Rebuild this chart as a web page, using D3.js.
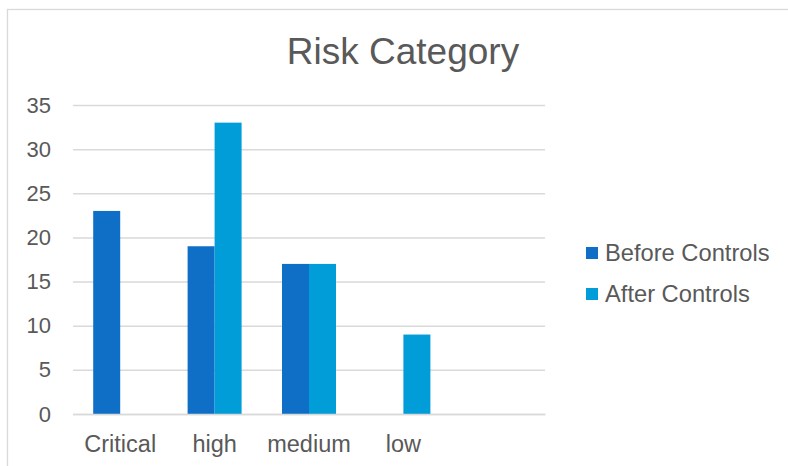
<!DOCTYPE html>
<html>
<head>
<meta charset="utf-8">
<script src="https://cdn.jsdelivr.net/npm/d3@7"></script>
<style>
  html, body { margin: 0; padding: 0; background: #fff; }
  svg { display: block; font-family: "Liberation Sans", Arial, sans-serif; }
</style>
</head>
<body>
<svg id="chart" width="788" height="466"></svg>
<script>
// Risk counts per category, before and after controls (last slot is an empty category)
const categories = ["Critical", "high", "medium", "low", ""];
const seriesNames = ["Before Controls", "After Controls"];
const beforeControls = [23, 19, 17, null, null];
const afterControls = [null, 33, 17, 9, null];
const yTicks = [0, 5, 10, 15, 20, 25, 30, 35];
const colors = ["#0F6FC6", "#009DD9"];

const svg = d3.select("#chart");
const textColor = "#595959";
const gridColor = "#D9D9D9";

// Chart area frame
svg.append("rect")
  .attr("x", 7.5).attr("y", 9.5)
  .attr("width", 800).attr("height", 480)
  .attr("fill", "#fff").attr("stroke", gridColor).attr("stroke-width", 1.3);

const plot = { left: 73, right: 545, top: 105, bottom: 414 };

const x = d3.scaleBand()
  .domain(categories.map((d, i) => i))
  .range([plot.left, plot.right])
  .paddingInner(0.428)
  .paddingOuter(0.214);

const xSub = d3.scaleBand()
  .domain(d3.range(seriesNames.length))
  .range([0, x.bandwidth()]);

const y = d3.scaleLinear().domain([0, 35]).range([plot.bottom, plot.top]);

// Title
svg.append("text")
  .attr("x", 403).attr("y", 64)
  .attr("text-anchor", "middle")
  .attr("fill", textColor)
  .attr("font-size", 37)
  .text("Risk Category");

// Gridlines and y tick labels
const yAxis = d3.axisLeft(y).tickValues(yTicks).tickSize(-(plot.right - plot.left)).tickPadding(22);
const gy = svg.append("g").attr("transform", `translate(${plot.left},0)`).call(yAxis);
gy.select(".domain").remove();
gy.selectAll(".tick line").attr("stroke", gridColor).attr("stroke-width", 1.5);
gy.selectAll(".tick text").attr("fill", textColor).attr("font-size", 22)
  .attr("font-family", "Liberation Sans, Arial, sans-serif");

// Bars
const series = [beforeControls, afterControls];
series.forEach((vals, s) => {
  svg.append("g").selectAll("rect")
    .data(vals.map((v, i) => ({ v, i })).filter(d => d.v != null))
    .join("rect")
    .attr("x", d => x(d.i) + xSub(s))
    .attr("width", xSub.bandwidth())
    .attr("y", d => y(d.v))
    .attr("height", d => y(0) - y(d.v))
    .attr("fill", colors[s]);
});

// Category axis
const xAxis = d3.axisBottom(x).tickFormat(i => categories[i]).tickSize(0).tickPadding(21);
const gx = svg.append("g").attr("transform", `translate(0,${plot.bottom})`).call(xAxis);
gx.select(".domain").attr("stroke", gridColor).attr("stroke-width", 1.5);
gx.selectAll(".tick text").attr("fill", textColor).attr("font-size", 23.5)
  .attr("font-family", "Liberation Sans, Arial, sans-serif");

// Legend
const legend = svg.append("g");
seriesNames.forEach((name, s) => {
  const ly = 253 + s * 41;
  legend.append("rect")
    .attr("x", 586).attr("y", ly - 6)
    .attr("width", 12).attr("height", 12)
    .attr("fill", colors[s]);
  legend.append("text")
    .attr("x", 605).attr("y", ly)
    .attr("dy", "0.35em")
    .attr("fill", textColor)
    .attr("font-size", 23.7)
    .text(name);
});
</script>
</body>
</html>
